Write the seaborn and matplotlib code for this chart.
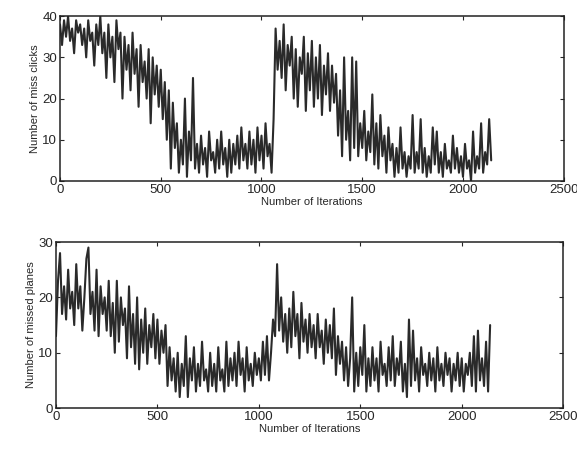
import numpy as np
import pandas as pd
import matplotlib
matplotlib.use('Agg')
import matplotlib.pyplot as plt
import seaborn as sns

# values, one sample every 10 iterations
miss_clicks = [
    38, 33, 39, 35, 40, 34, 37, 31, 39, 36,
    38, 33, 37, 30, 39, 34, 36, 28, 38, 33,
    40, 31, 36, 25, 38, 30, 35, 24, 39, 32,
    36, 20, 35, 27, 33, 22, 36, 26, 32, 18,
    33, 24, 29, 20, 32, 14, 30, 21, 28, 18,
    27, 15, 24, 10, 22, 3, 19, 8, 14, 2,
    10, 4, 20, 1, 12, 5, 25, 3, 9, 2,
    11, 4, 8, 1, 12, 5, 7, 2, 10, 3,
    12, 4, 8, 1, 10, 2, 9, 4, 11, 3,
    13, 5, 9, 3, 12, 4, 10, 2, 13, 5,
    11, 3, 14, 6, 9, 2, 15,
    # after the reset
    37, 27, 34, 25, 38, 22, 33, 28, 35, 20,
    32, 18, 30, 26, 35, 17, 31, 22, 34, 18,
    30, 20, 33, 16, 28, 21, 31, 17, 28, 19,
    26, 11, 22, 6, 30, 10, 17, 5, 30, 8,
    29, 6, 14, 8, 17, 5, 12, 7, 21, 4,
    14, 3, 16, 6, 11, 2, 13, 5, 9, 1,
    8, 2, 13, 3, 7, 1, 6, 3, 16, 2,
    7, 3, 15, 2, 8, 1, 6, 2, 13, 4,
    12, 2, 7, 1, 9, 3, 5, 2, 11, 3,
    8, 2, 6, 1, 9, 3, 5, 0, 12, 2,
    6, 3, 14, 2, 7, 4, 15, 5,
]

missed_planes = [
    13, 23, 28, 17, 22, 16, 25, 18, 21, 15,
    26, 18, 22, 14, 20, 27, 29, 17, 21, 14,
    25, 13, 22, 17, 20, 14, 23, 13, 19, 10,
    23, 12, 20, 15, 18, 9, 22, 11, 17, 8,
    20, 7, 16, 10, 18, 8, 15, 11, 17, 9,
    16, 8, 14, 10, 15, 4, 11, 5, 9, 3,
    10, 2, 8, 4, 13, 2, 9, 5, 11, 3,
    8, 4, 12, 5, 7, 3, 10, 4, 8, 3,
    11, 5, 7, 3, 12, 4, 9, 5, 10, 4,
    12, 6, 9, 3, 11, 5, 8, 4, 10, 6,
    9, 5, 12, 6, 13, 5, 10,
    # after the reset
    16, 13, 26, 14, 20, 12, 17, 10, 18, 11,
    21, 13, 17, 9, 19, 12, 16, 10, 17, 11,
    15, 9, 17, 11, 14, 8, 16, 10, 15, 9,
    18, 6, 13, 8, 12, 5, 11, 4, 9, 20,
    3, 10, 4, 11, 6, 15, 3, 9, 4, 11,
    5, 9, 3, 12, 6, 8, 4, 11, 5, 13,
    4, 9, 6, 12, 3, 8, 2, 16, 4, 14,
    5, 9, 3, 11, 6, 8, 4, 10, 5, 9,
    3, 11, 5, 8, 4, 10, 6, 9, 3, 8,
    5, 10, 4, 9, 3, 8, 6, 10, 4, 13,
    3, 14, 5, 9, 4, 12, 3, 15,
]

iterations = np.arange(len(miss_clicks)) * 10
x_ticks = [0, 500, 1000, 1500, 2000, 2500]

df = pd.DataFrame({'iteration': iterations,
                   'clicks': miss_clicks,
                   'planes': missed_planes})

sns.set_style('ticks')
plt.rcParams['font.family'] = ['Liberation Sans', 'DejaVu Sans']

fig = plt.figure(figsize=(5.77, 4.49), dpi=100)
ax1 = fig.add_axes([0.104, 0.597, 0.873, 0.367])
ax2 = fig.add_axes([0.097, 0.091, 0.879, 0.370])

panels = [
    (ax1, 'clicks', 'Number of miss clicks', [0, 10, 20, 30, 40]),
    (ax2, 'planes', 'Number of missed planes', [0, 10, 20, 30]),
]
for ax, col, ylabel, yt in panels:
    sns.lineplot(data=df, x='iteration', y=col, ax=ax, color='#2a2a2a',
                 linewidth=1.5, estimator=None)
    ax.set_xlim(0, 2500)
    ax.set_ylim(yt[0], yt[-1])
    ax.set_xticks(x_ticks)
    ax.set_yticks(yt)
    ax.tick_params(direction='in', length=3, labelsize=9.5, top=True, right=True,
                   width=0.8, pad=2)
    for s in ax.spines.values():
        s.set_linewidth(1.1)
        s.set_color('#222222')
    ax.set_xlabel('Number of Iterations', fontsize=8, labelpad=1)
    ax.set_ylabel(ylabel, fontsize=8, labelpad=2)

fig.savefig('out.png', dpi=100)
